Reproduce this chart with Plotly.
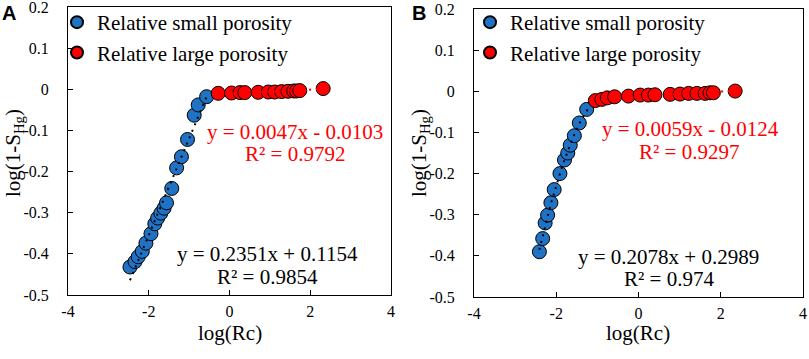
import plotly.graph_objects as go
import numpy as np

W, H = 809, 359
SERIF = "Liberation Serif"
BLUE = "#1F72C4"
RED = "#FF0000"

# ---------------- data ----------------
X_TICKS = [-4, -2, 0, 2, 4]
X_LABELS = ["-4", "-2", "0", "2", "4"]
Y_TICKS = [0.2, 0.1, 0, -0.1, -0.2, -0.3, -0.4, -0.5]
Y_LABELS = ["0.2", "0.1", "0", "-0.1", "-0.2", "-0.3", "-0.4", "-0.5"]

# Panel A
A_small_x = [-2.465, -2.34, -2.26, -2.16, -2.07, -1.945, -1.85, -1.78, -1.70, -1.62,
             -1.56, -1.43, -1.31, -1.19, -1.04, -0.874, -0.775, -0.567]
A_small_y = [-0.432, -0.419, -0.407, -0.394, -0.374, -0.351, -0.327, -0.313, -0.301, -0.289,
             -0.276, -0.241, -0.191, -0.164, -0.122, -0.063, -0.038, -0.018]
A_large_x = [-0.28, 0.05, 0.26, 0.38, 0.71, 0.96, 1.12, 1.29, 1.45, 1.59, 1.66, 1.74, 2.32]
A_large_y = [-0.0098, -0.0090, -0.0080, -0.0080, -0.0073, -0.0066, -0.0066, -0.0056,
             -0.0049, -0.0041, -0.0041, -0.0032, 0.0017]
A_small_fit = (0.2351, 0.1154)
A_large_fit = (0.0047, -0.0103)
A_small_eq = ["y = 0.2351x + 0.1154", "R² = 0.9854"]
A_large_eq = ["y = 0.0047x - 0.0103", "R² = 0.9792"]

# Panel B
B_small_x = [-2.41, -2.33, -2.27, -2.21, -2.13, -2.05, -1.91, -1.80, -1.72, -1.66,
             -1.56, -1.44, -1.26]
B_small_y = [-0.390, -0.358, -0.320, -0.301, -0.271, -0.239, -0.200, -0.167, -0.150, -0.131,
             -0.108, -0.077, -0.044]
B_large_x = [-1.05, -0.89, -0.76, -0.58, -0.245, 0.04, 0.24, 0.40, 0.77, 1.01, 1.22,
             1.42, 1.62, 1.74, 1.82, 2.35]
B_large_y = [-0.0226, -0.0197, -0.0160, -0.0134, -0.0117, -0.0092, -0.0092, -0.0085,
             -0.0075, -0.0068, -0.0051, -0.0051, -0.0051, -0.0036, -0.0036, 0.0005]
B_large_fit = (0.0059, -0.0124)
B_small_eq = ["y = 0.2078x + 0.2989", "R² = 0.974"]
B_large_eq = ["y = 0.0059x - 0.0124", "R² = 0.9297"]
B_small_trend_end = -1.18

SERIES_NAMES = ["Relative small porosity", "Relative large porosity"]

# ---------------- figure ----------------
fig = go.Figure()
DOT = "2px,5px"


def lin(xs, fit):
    xs = np.array([min(xs), max(xs)])
    return xs, fit[0] * xs + fit[1]


def add_panel(sx, sy, lx, ly, xa, ya, leg, small_trend, large_fit):
    tx, ty = small_trend
    fig.add_trace(go.Scatter(x=sx, y=sy, mode="markers", name=SERIES_NAMES[0],
                             marker=dict(size=14, color=BLUE, line=dict(color="black", width=1)),
                             xaxis=xa, yaxis=ya, legend=leg))
    fig.add_trace(go.Scatter(x=tx, y=ty, mode="lines", line=dict(color="black", width=2, dash=DOT),
                             showlegend=False, xaxis=xa, yaxis=ya, hoverinfo="skip"))
    rx, ry = lin(lx, large_fit)
    fig.add_trace(go.Scatter(x=lx, y=ly, mode="markers", name=SERIES_NAMES[1],
                             marker=dict(size=14, color=RED, line=dict(color="black", width=1)),
                             xaxis=xa, yaxis=ya, legend=leg))
    fig.add_trace(go.Scatter(x=rx, y=ry, mode="lines", line=dict(color=RED, width=2, dash=DOT),
                             showlegend=False, xaxis=xa, yaxis=ya, hoverinfo="skip"))


# Panel A trend (linear, from equation)
add_panel(A_small_x, A_small_y, A_large_x, A_large_y, "x", "y", "legend",
          lin(A_small_x, A_small_fit), A_large_fit)

# Panel B trend (curve fitted through the points)
cB = np.polyfit(B_small_x, B_small_y, 2)
bx = np.linspace(min(B_small_x), B_small_trend_end, 40)
add_panel(B_small_x, B_small_y, B_large_x, B_large_y, "x2", "y2", "legend2",
          (bx, np.polyval(cB, bx)), B_large_fit)

axis_common = dict(showline=True, mirror=True, linecolor="black", linewidth=1,
                   ticks="inside", ticklen=5, tickcolor="black", showgrid=False, zeroline=False,
                   automargin=False, ticklabeloverflow="allow",
                   tickfont=dict(family=SERIF, size=16, color="black"))

fig.update_layout(
    width=W, height=H, margin=dict(l=0, r=0, t=0, b=0, pad=0, autoexpand=False),
    paper_bgcolor="white", plot_bgcolor="white",
    xaxis=dict(domain=[68 / W, 391 / W], range=[-4, 4], tickvals=X_TICKS, ticktext=X_LABELS,
               anchor="y", ticklabelstandoff=2, **axis_common),
    yaxis=dict(domain=[1 - 295 / H, 1 - 7 / H], range=[-0.5, 0.2], tickvals=Y_TICKS,
               ticktext=Y_LABELS, anchor="x", ticklabelstandoff=15, **axis_common),
    xaxis2=dict(domain=[474 / W, 803 / W], range=[-4, 4], tickvals=X_TICKS, ticktext=X_LABELS,
                anchor="y2", ticklabelstandoff=2, **axis_common),
    yaxis2=dict(domain=[1 - 297 / H, 1 - 9 / H], range=[-0.5, 0.2], tickvals=Y_TICKS,
                ticktext=Y_LABELS, anchor="x2", ticklabelstandoff=15, **axis_common),
    legend=dict(x=57 / W, y=1 - 2 / H, xanchor="left", yanchor="top", bgcolor="rgba(0,0,0,0)",
                font=dict(family=SERIF, size=21, color="black"), itemsizing="constant",
                tracegroupgap=0),
    legend2=dict(x=470 / W, y=1 - 2 / H, xanchor="left", yanchor="top", bgcolor="rgba(0,0,0,0)",
                 font=dict(family=SERIF, size=21, color="black"), itemsizing="constant",
                 tracegroupgap=0),
    showlegend=True,
)

ann = []


def txt(text, px, py, size=21, color="black", angle=0, family=SERIF, bold=False):
    t = f"<b>{text}</b>" if bold else text
    ann.append(dict(text=t, x=px / W, y=1 - py / H, xref="paper", yref="paper",
                    xanchor="center", yanchor="middle", showarrow=False, textangle=angle,
                    font=dict(family=family, size=size, color=color)))


# equations
txt(A_large_eq[0], 295, 132, color=RED)
txt(A_large_eq[1], 295, 154, color=RED)
txt(A_small_eq[0], 267, 254)
txt(A_small_eq[1], 267, 277)
txt(B_large_eq[0], 690, 129, color=RED)
txt(B_large_eq[1], 689, 152, color=RED)
txt(B_small_eq[0], 668, 257)
txt(B_small_eq[1], 669, 279)

# axis titles
txt("log(Rc)", 230, 333)
txt("log(Rc)", 638, 333)
txt("log(1-S<sub>Hg</sub>)", 14, 153, angle=-90)
txt("log(1-S<sub>Hg</sub>)", 420, 153, angle=-90)

# panel letters
txt("A", 9, 13, size=20, family="Liberation Sans", bold=True)
txt("B", 419, 13, size=20, family="Liberation Sans", bold=True)

fig.update_layout(annotations=ann)
fig.write_html("out.html", post_script="document.body.style.margin='0';",
               config={"displayModeBar": False})
